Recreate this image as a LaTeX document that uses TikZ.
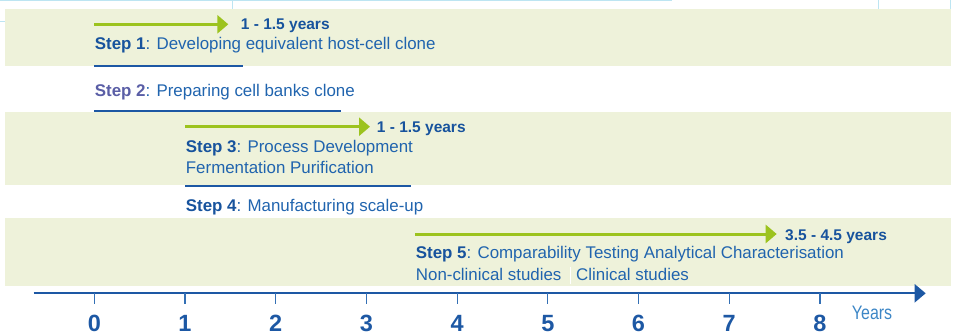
\documentclass[tikz,border=0pt]{standalone}
\usepackage{fontspec}
\usepackage{graphicx}
\setmainfont{Liberation Sans}
\usetikzlibrary{arrows.meta}
\definecolor{bandc}{HTML}{EEF2DA}
\definecolor{greenc}{HTML}{9CC31E}
\definecolor{stepc}{HTML}{17539D}
\definecolor{txtc}{HTML}{2064AE}
\definecolor{step2c}{HTML}{5A5EA6}
\definecolor{axisc}{HTML}{1D58A4}
\definecolor{tickc}{HTML}{3470B5}
\definecolor{yearsc}{HTML}{3C86C6}
\definecolor{gridc}{HTML}{BDE5F2}
\begin{document}
\begin{tikzpicture}[x=1pt,y=-1pt,
  txt/.style={inner sep=0pt,anchor=base west,text=txtc,font=\fontsize{16.9}{20}\selectfont},
  dur/.style={inner sep=0pt,anchor=base west,text=stepc,font=\fontsize{15.5}{19}\selectfont\bfseries},
  num/.style={inner sep=0pt,anchor=base,text=axisc,font=\fontsize{23.5}{26}\selectfont\bfseries},
  band/.style={fill=bandc,draw=none},
  garrow/.style={draw=greenc,line width=3pt,-{Triangle[length=11pt,width=18pt]}},
  uline/.style={draw=axisc,line width=1.8pt},
  gridline/.style={draw=gridc,line width=1pt},
  tick/.style={draw=tickc,line width=1.2pt}]
\useasboundingbox (0,0) rectangle (956,335);
% faint grid remnants
\draw[gridline] (0,0.5) -- (672,0.5);
\draw[gridline] (232,0) -- (232,9);
\draw[gridline] (878,0) -- (878,9);
\draw[gridline] (950.5,0) -- (950.5,50);
\draw[gridline] (0,21.5) -- (5,21.5);
% bands
\fill[band] (5,9) rectangle (951,65.7);
\fill[band] (5,112) rectangle (951,185);
\fill[band] (5,218.3) rectangle (951,285.7);
% step 1
\coordinate (a1s) at (94.3,24.3);
\coordinate (a1e) at (228.3,24.3);
\draw[garrow] (a1s) -- (a1e);
\node[dur] (d1) at (240.7,29.5) {1 - 1.5 years};
\node[txt] (s1) at (94.7,49.3) {\textbf{\color{stepc}Step 1}: Developing equivalent host-cell clone};
\coordinate (u1s) at (94.3,66);
\coordinate (u1e) at (242.7,66);
\draw[uline] (u1s) -- (u1e);
% step 2
\node[txt] (s2) at (94.7,96.7) {\textbf{\color{step2c}Step 2}: Preparing cell banks clone};
\coordinate (u2s) at (94.3,111);
\coordinate (u2e) at (340.7,111);
\draw[uline] (u2s) -- (u2e);
% step 3
\coordinate (a3s) at (185,126.7);
\coordinate (a3e) at (370,126.7);
\draw[garrow] (a3s) -- (a3e);
\node[dur] (d3) at (376.7,132.3) {1 - 1.5 years};
\node[txt] (s3a) at (185.7,152.3) {\textbf{\color{stepc}Step 3}: Process Development};
\node[txt] (s3b) at (185.7,173.3) {Fermentation Purification};
\coordinate (u3s) at (185,185.7);
\coordinate (u3e) at (410.7,185.7);
\draw[uline] (u3s) -- (u3e);
% step 4
\node[txt] (s4) at (185.7,211) {\textbf{\color{stepc}Step 4}: Manufacturing scale-up};
% step 5
\coordinate (a5s) at (415,234);
\coordinate (a5e) at (776.7,234);
\draw[garrow] (a5s) -- (a5e);
\node[dur] (d5) at (785,240.7) {3.5 - 4.5 years};
\node[txt] (s5a) at (415.7,258.3) {\textbf{\color{stepc}Step 5}: Comparability Testing Analytical Characterisation};
\node[txt] (s5b) at (415.7,280.7) {Non-clinical studies};
\node[txt] (s5c) at (576,280.7) {Clinical studies};
\coordinate (sepT) at (570,266.7);
\coordinate (sepB) at (570,284);
\draw[white,line width=1pt] (sepT) -- (sepB);
% axis
\coordinate (ax0) at (33.5,293.3);
\coordinate (ax1) at (925.7,293.3);
\draw[draw=axisc,line width=2.2pt,-{Triangle[length=11pt,width=18pt]}] (ax0) -- (ax1);
\foreach \i in {0,...,8}{
  \coordinate (t\i) at ({94.3+90.7*\i},293.3);
  \coordinate (tb\i) at ({94.3+90.7*\i},304);
  \draw[tick] (t\i) -- (tb\i);
  \node[num] (n\i) at ({94.3+90.7*\i},331.7) {\i};
}
\node[inner sep=0pt,anchor=base west,text=yearsc,font=\fontsize{19.5}{22}\selectfont] (yrs) at (851.7,319.3) {\scalebox{0.82}[1]{Years}};
\end{tikzpicture}
\end{document}
